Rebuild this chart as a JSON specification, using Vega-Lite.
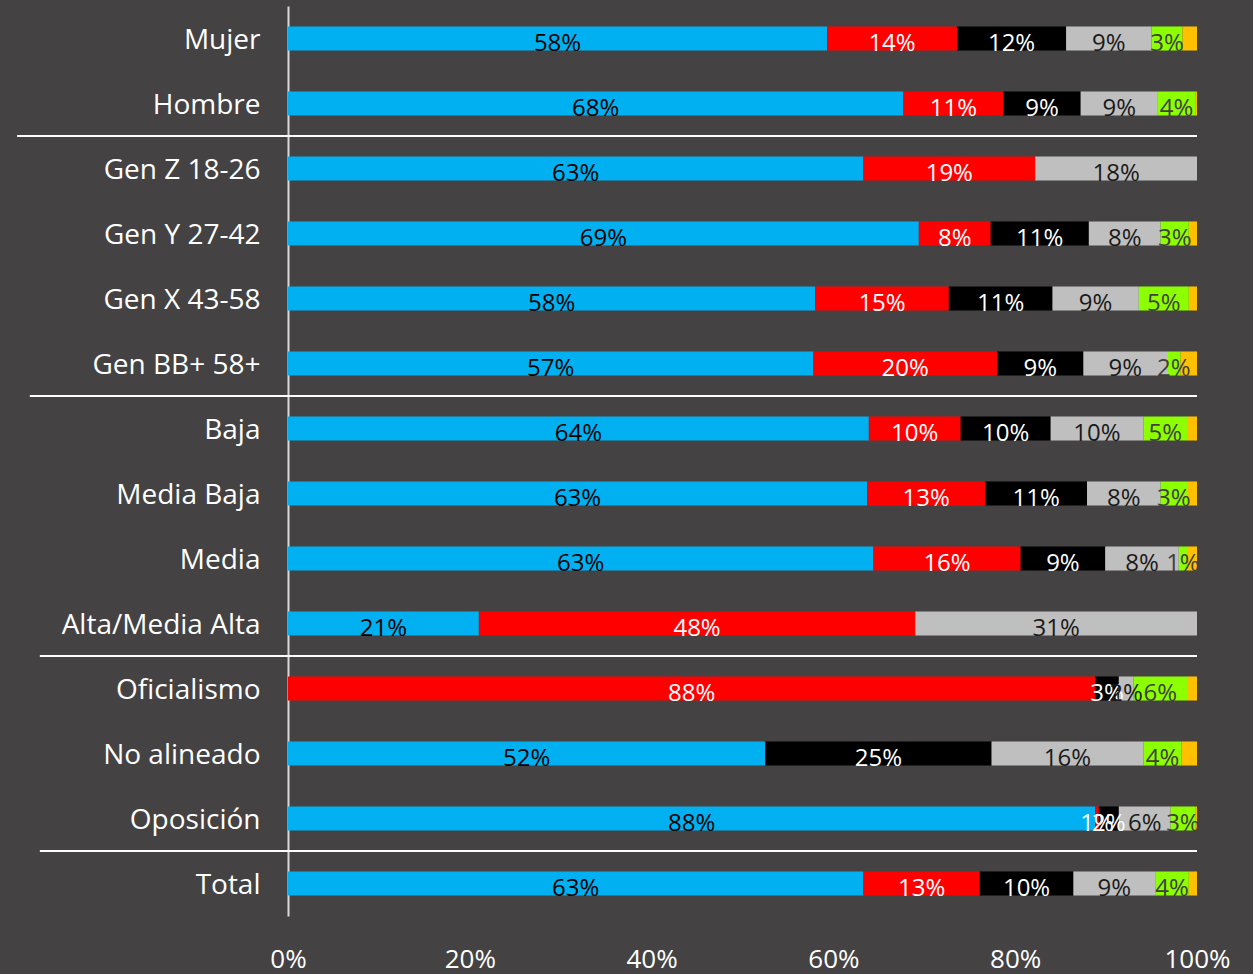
{
  "$schema": "https://vega.github.io/schema/vega-lite/v6.json",
  "width": 909,
  "height": 910,
  "autosize": {"type": "none"},
  "padding": {"left": 288, "top": 6, "right": 56, "bottom": 58},
  "background": "#444243",
  "config": {
    "view": {"stroke": null},
    "font": "Open Sans"
  },
  "datasets": {
    "bars": [
      {"c": "Mujer", "s": 1, "v": 59.3, "t": "58%"},
      {"c": "Mujer", "s": 2, "v": 14.3, "t": "14%"},
      {"c": "Mujer", "s": 3, "v": 12.0, "t": "12%"},
      {"c": "Mujer", "s": 4, "v": 9.4, "t": "9%"},
      {"c": "Mujer", "s": 5, "v": 3.4, "t": "3%"},
      {"c": "Mujer", "s": 6, "v": 1.6, "t": ""},
      {"c": "Hombre", "s": 1, "v": 67.7, "t": "68%"},
      {"c": "Hombre", "s": 2, "v": 11.0, "t": "11%"},
      {"c": "Hombre", "s": 3, "v": 8.5, "t": "9%"},
      {"c": "Hombre", "s": 4, "v": 8.5, "t": "9%"},
      {"c": "Hombre", "s": 5, "v": 4.1, "t": "4%"},
      {"c": "Hombre", "s": 6, "v": 0.2, "t": ""},
      {"c": "Gen Z 18-26", "s": 1, "v": 63.3, "t": "63%"},
      {"c": "Gen Z 18-26", "s": 2, "v": 18.9, "t": "19%"},
      {"c": "Gen Z 18-26", "s": 4, "v": 17.8, "t": "18%"},
      {"c": "Gen Y 27-42", "s": 1, "v": 69.4, "t": "69%"},
      {"c": "Gen Y 27-42", "s": 2, "v": 7.9, "t": "8%"},
      {"c": "Gen Y 27-42", "s": 3, "v": 10.8, "t": "11%"},
      {"c": "Gen Y 27-42", "s": 4, "v": 7.9, "t": "8%"},
      {"c": "Gen Y 27-42", "s": 5, "v": 3.1, "t": "3%"},
      {"c": "Gen Y 27-42", "s": 6, "v": 0.9, "t": ""},
      {"c": "Gen X 43-58", "s": 1, "v": 58.0, "t": "58%"},
      {"c": "Gen X 43-58", "s": 2, "v": 14.7, "t": "15%"},
      {"c": "Gen X 43-58", "s": 3, "v": 11.4, "t": "11%"},
      {"c": "Gen X 43-58", "s": 4, "v": 9.5, "t": "9%"},
      {"c": "Gen X 43-58", "s": 5, "v": 5.5, "t": "5%"},
      {"c": "Gen X 43-58", "s": 6, "v": 0.9, "t": ""},
      {"c": "Gen BB+ 58+", "s": 1, "v": 57.8, "t": "57%"},
      {"c": "Gen BB+ 58+", "s": 2, "v": 20.2, "t": "20%"},
      {"c": "Gen BB+ 58+", "s": 3, "v": 9.5, "t": "9%"},
      {"c": "Gen BB+ 58+", "s": 4, "v": 9.2, "t": "9%"},
      {"c": "Gen BB+ 58+", "s": 5, "v": 1.5, "t": "2%"},
      {"c": "Gen BB+ 58+", "s": 6, "v": 1.8, "t": ""},
      {"c": "Baja", "s": 1, "v": 63.9, "t": "64%"},
      {"c": "Baja", "s": 2, "v": 10.1, "t": "10%"},
      {"c": "Baja", "s": 3, "v": 9.9, "t": "10%"},
      {"c": "Baja", "s": 4, "v": 10.2, "t": "10%"},
      {"c": "Baja", "s": 5, "v": 4.8, "t": "5%"},
      {"c": "Baja", "s": 6, "v": 1.1, "t": ""},
      {"c": "Media Baja", "s": 1, "v": 63.7, "t": "63%"},
      {"c": "Media Baja", "s": 2, "v": 13.0, "t": "13%"},
      {"c": "Media Baja", "s": 3, "v": 11.2, "t": "11%"},
      {"c": "Media Baja", "s": 4, "v": 8.1, "t": "8%"},
      {"c": "Media Baja", "s": 5, "v": 2.9, "t": "3%"},
      {"c": "Media Baja", "s": 6, "v": 1.1, "t": ""},
      {"c": "Media", "s": 1, "v": 64.4, "t": "63%"},
      {"c": "Media", "s": 2, "v": 16.2, "t": "16%"},
      {"c": "Media", "s": 3, "v": 9.3, "t": "9%"},
      {"c": "Media", "s": 4, "v": 8.1, "t": "8%"},
      {"c": "Media", "s": 5, "v": 0.9, "t": "1%"},
      {"c": "Media", "s": 6, "v": 1.1, "t": ""},
      {"c": "Alta/Media Alta", "s": 1, "v": 21.0, "t": "21%"},
      {"c": "Alta/Media Alta", "s": 2, "v": 48.0, "t": "48%"},
      {"c": "Alta/Media Alta", "s": 4, "v": 31.0, "t": "31%"},
      {"c": "Oficialismo", "s": 2, "v": 88.8, "t": "88%"},
      {"c": "Oficialismo", "s": 3, "v": 2.6, "t": "3%"},
      {"c": "Oficialismo", "s": 4, "v": 1.6, "t": "2%"},
      {"c": "Oficialismo", "s": 5, "v": 5.9, "t": "6%"},
      {"c": "Oficialismo", "s": 6, "v": 1.1, "t": ""},
      {"c": "No alineado", "s": 1, "v": 52.5, "t": "52%"},
      {"c": "No alineado", "s": 3, "v": 24.9, "t": "25%"},
      {"c": "No alineado", "s": 4, "v": 16.7, "t": "16%"},
      {"c": "No alineado", "s": 5, "v": 4.2, "t": "4%"},
      {"c": "No alineado", "s": 6, "v": 1.7, "t": ""},
      {"c": "Oposición", "s": 1, "v": 88.8, "t": "88%"},
      {"c": "Oposición", "s": 2, "v": 0.4, "t": "1%"},
      {"c": "Oposición", "s": 3, "v": 2.2, "t": "2%"},
      {"c": "Oposición", "s": 4, "v": 5.7, "t": "6%"},
      {"c": "Oposición", "s": 5, "v": 2.7, "t": "3%"},
      {"c": "Oposición", "s": 6, "v": 0.2, "t": ""},
      {"c": "Total", "s": 1, "v": 63.3, "t": "63%"},
      {"c": "Total", "s": 2, "v": 12.8, "t": "13%"},
      {"c": "Total", "s": 3, "v": 10.3, "t": "10%"},
      {"c": "Total", "s": 4, "v": 9.0, "t": "9%"},
      {"c": "Total", "s": 5, "v": 3.7, "t": "4%"},
      {"c": "Total", "s": 6, "v": 0.9, "t": ""}
    ],
    "seps": [
      {"c": "Hombre", "from": -29.8, "to": 100},
      {"c": "Gen BB+ 58+", "from": -28.4, "to": 100},
      {"c": "Alta/Media Alta", "from": -27.3, "to": 100},
      {"c": "Oposición", "from": -27.3, "to": 100}
    ]
  },
  "layer": [
    {
      "data": {"name": "bars"},
      "transform": [
        {"stack": "v", "groupby": ["c"], "sort": [{"field": "s"}], "as": ["v0", "v1"]},
        {"calculate": "(datum.v0 + datum.v1) / 2", "as": "mid"}
      ],
      "layer": [
        {
          "mark": {"type": "bar", "height": {"band": 0.37}},
          "encoding": {
            "y": {
              "field": "c", "type": "nominal", "sort": null,
              "scale": {"paddingInner": 0, "paddingOuter": 0},
              "axis": {
                "title": null, "ticks": false, "domain": true,
                "domainColor": "#D9D9D9", "domainWidth": 2,
                "labelColor": "#FFFFFF", "labelFontSize": 28,
                "labelPadding": 28, "labelFont": "Open Sans",
                "labelLimit": 400, "labelOffset": 2
              }
            },
            "x": {
              "field": "v0", "type": "quantitative",
              "scale": {"domain": [0, 100], "nice": false},
              "axis": {
                "title": null, "grid": false, "domain": false, "ticks": false,
                "values": [0, 20, 40, 60, 80, 100],
                "labelExpr": "datum.value + '%'",
                "labelColor": "#FFFFFF", "labelFontSize": 26,
                "labelPadding": 30, "labelFont": "Open Sans",
                "labelFlush": false
              }
            },
            "x2": {"field": "v1"},
            "color": {
              "field": "s", "type": "nominal", "legend": null,
              "scale": {
                "domain": [1, 2, 3, 4, 5, 6],
                "range": ["#00B0F0", "#FF0000", "#000000", "#BFBFBF", "#8CFF00", "#FFC000"]
              }
            }
          }
        },
        {
          "mark": {"type": "text", "fontSize": 24, "baseline": "alphabetic", "dy": 12, "align": "center"},
          "encoding": {
            "y": {"field": "c", "type": "nominal", "sort": null},
            "x": {"field": "mid", "type": "quantitative"},
            "text": {"field": "t"},
            "color": {
              "field": "s", "type": "nominal", "legend": null,
              "scale": {
                "domain": [1, 2, 3, 4, 5, 6],
                "range": ["#000000", "#FFFFFF", "#FFFFFF", "#1A1A1A", "#404040", "#404040"]
              }
            }
          }
        }
      ],
      "resolve": {"scale": {"color": "independent"}}
    },
    {
      "data": {"name": "seps"},
      "mark": {"type": "rule", "color": "#FFFFFF", "strokeWidth": 2, "clip": false},
      "encoding": {
        "y": {"field": "c", "type": "nominal", "sort": null, "bandPosition": 1},
        "x": {"field": "from", "type": "quantitative"},
        "x2": {"field": "to"}
      }
    }
  ]
}
